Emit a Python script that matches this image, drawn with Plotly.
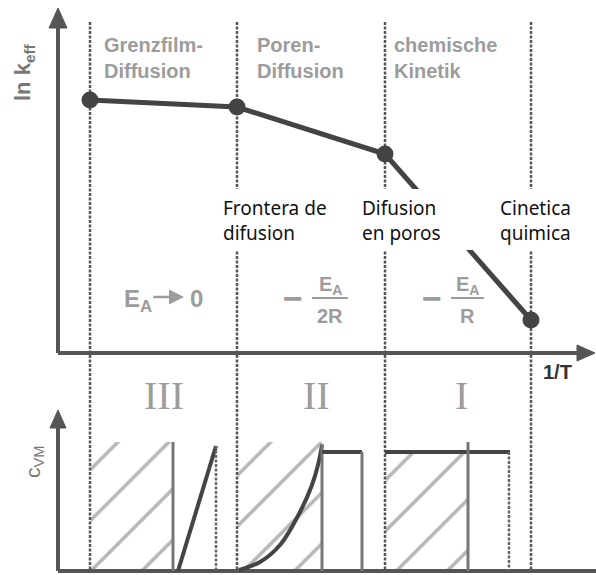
import plotly.graph_objects as go

# diagram units: x grows to the right (1/T), y grows downwards (pixel-like)
regime_x = [90, 237, 385, 531]          # dotted regime boundaries
lnk_x = [90, 237, 385, 531]             # ln k_eff vs 1/T points
lnk_y = [100, 107, 154, 320]

regime_de = ["Grenzfilm-<br>Diffusion", "Poren-<br>Diffusion", "chemische<br>Kinetik"]
regime_es = ["Frontera de<br>difusion", "Difusion<br>en poros", "Cinetica<br>quimica"]
roman = ["III", "II", "I"]

# lower panel: concentration profiles c_VM
curve_II_x = [239, 260, 280, 300, 312, 318, 322]
curve_II_y = [570, 562, 545, 512, 485, 465, 445]

AX = "#555555"
DARK = "#444444"
GREY_TXT = "#9c9c9c"

fig = go.Figure()


def line(x, y, color=AX, width=4, dash=None):
    fig.add_trace(go.Scatter(x=x, y=y, mode="lines", hoverinfo="skip",
                             line=dict(color=color, width=width, dash=dash)))


def tri(x, y, color=AX):
    fig.add_trace(go.Scatter(x=x, y=y, mode="lines", fill="toself", fillcolor=color,
                             hoverinfo="skip", line=dict(color=color, width=1)))


def hatch(x0, x1, y0, y1):
    fig.add_trace(go.Scatter(x=[x0, x1, x1, x0, x0], y=[y0, y0, y1, y1, y0], mode="lines",
                             fill="toself", fillcolor="rgba(0,0,0,0)", hoverinfo="skip",
                             line=dict(width=0),
                             fillpattern=dict(shape="/", size=36, solidity=0.1,
                                              fgcolor="#707070", bgcolor="rgba(0,0,0,0)")))


# hatched areas
hatch(91, 173, 442, 571)
hatch(238, 322, 442, 571)
hatch(386, 468, 452, 571)

# dotted regime boundaries
for bx in regime_x:
    line([bx, bx], [22, 571], color="#555555", width=2.5, dash="3px,1.5px")

# axes
line([58, 58], [353, 24])
line([58, 580], [353, 353])
tri([58, 49, 67, 58], [8, 28, 28, 8])
tri([595, 577, 577, 595], [353, 345, 361, 353])
line([58, 58], [571, 424])
line([58, 596], [571, 571])
tri([58, 50, 66, 58], [410, 428, 428, 410])

# ln k_eff curve
fig.add_trace(go.Scatter(x=lnk_x, y=lnk_y, mode="lines+markers", hoverinfo="skip",
                         line=dict(color=DARK, width=5),
                         marker=dict(color=DARK, size=17)))

# lower panel profiles
line([173, 173], [442, 571], color="#777777", width=3)
line([178, 216], [571, 446], color=DARK, width=4)
line([216, 216], [446, 571], color="#666666", width=2.5, dash="3px,1.5px")

fig.add_trace(go.Scatter(x=curve_II_x, y=curve_II_y, mode="lines", hoverinfo="skip",
                         line=dict(color=DARK, width=4, shape="spline")))
line([322, 322], [444, 571], color="#777777", width=3)
line([322, 362], [452, 452], color=DARK, width=4)
line([362, 362], [452, 571], color="#777777", width=3)

line([385, 510], [452, 452], color=DARK, width=4)
line([468, 468], [442, 571], color="#777777", width=3)
line([509, 509], [452, 571], color="#666666", width=2.5, dash="3px,1.5px")

# white box behind the Spanish labels
fig.add_shape(type="rect", x0=218, x1=596, y0=189, y1=250, xref="x", yref="y",
              fillcolor="white", line=dict(width=0), layer="above")


def txt(x, y, s, size, color=GREY_TXT, family="Liberation Sans", angle=0,
        xanchor="left", bold=False):
    if bold:
        s = "<b>" + s + "</b>"
    fig.add_annotation(x=x, y=y, text=s, showarrow=False, xanchor=xanchor,
                       yanchor="middle", textangle=angle, align="left",
                       font=dict(size=size, color=color, family=family))


for bx, s in zip([102, 255, 392], regime_de):
    txt(bx, 58, s, 20, bold=True)

for bx, s in zip([221, 360, 498], regime_es):
    txt(bx, 220, s, 19, color="#111111", family="Noto Sans")

for cx, s in zip([164, 316, 461], roman):
    txt(cx, 395, s, 40, family="Liberation Serif", xanchor="center")

txt(24, 72, "ln k<sub>eff</sub>", 22, color="#777777", angle=-90, xanchor="center", bold=True)
txt(34, 462, "c<sub>VM</sub>", 21, color="#777777", angle=-90, xanchor="center")
txt(541, 372, "1/T", 20, color="#333333", bold=True)

# activation energy labels
txt(122, 300, "E<sub>A</sub>", 24, bold=True)
txt(188, 298, "0", 24, bold=True)
fig.add_annotation(x=184, y=297, ax=152, ay=297, xref="x", yref="y", axref="x", ayref="y",
                   text="", showarrow=True, arrowhead=2, arrowsize=1.2, arrowwidth=2.5,
                   arrowcolor=GREY_TXT)
txt(281, 298, "−", 34, bold=True)
txt(330, 285, "E<sub>A</sub>", 20, xanchor="center", bold=True)
txt(330, 316, "2R", 20, xanchor="center", bold=True)
txt(420, 298, "−", 34, bold=True)
txt(467, 285, "E<sub>A</sub>", 20, xanchor="center", bold=True)
txt(467, 316, "R", 20, xanchor="center", bold=True)
line([312, 348], [298, 298], color=GREY_TXT, width=2)
line([451, 484], [298, 298], color=GREY_TXT, width=2)

fig.update_layout(width=596, height=575, margin=dict(l=0, r=0, t=0, b=0),
                  plot_bgcolor="white", paper_bgcolor="white", showlegend=False,
                  xaxis=dict(range=[0, 596], visible=False, fixedrange=True),
                  yaxis=dict(range=[575, 0], visible=False, fixedrange=True))

fig.write_html("out.html", config={"displayModeBar": False},
               post_script="document.body.style.margin='0';document.body.style.overflow='hidden';")
